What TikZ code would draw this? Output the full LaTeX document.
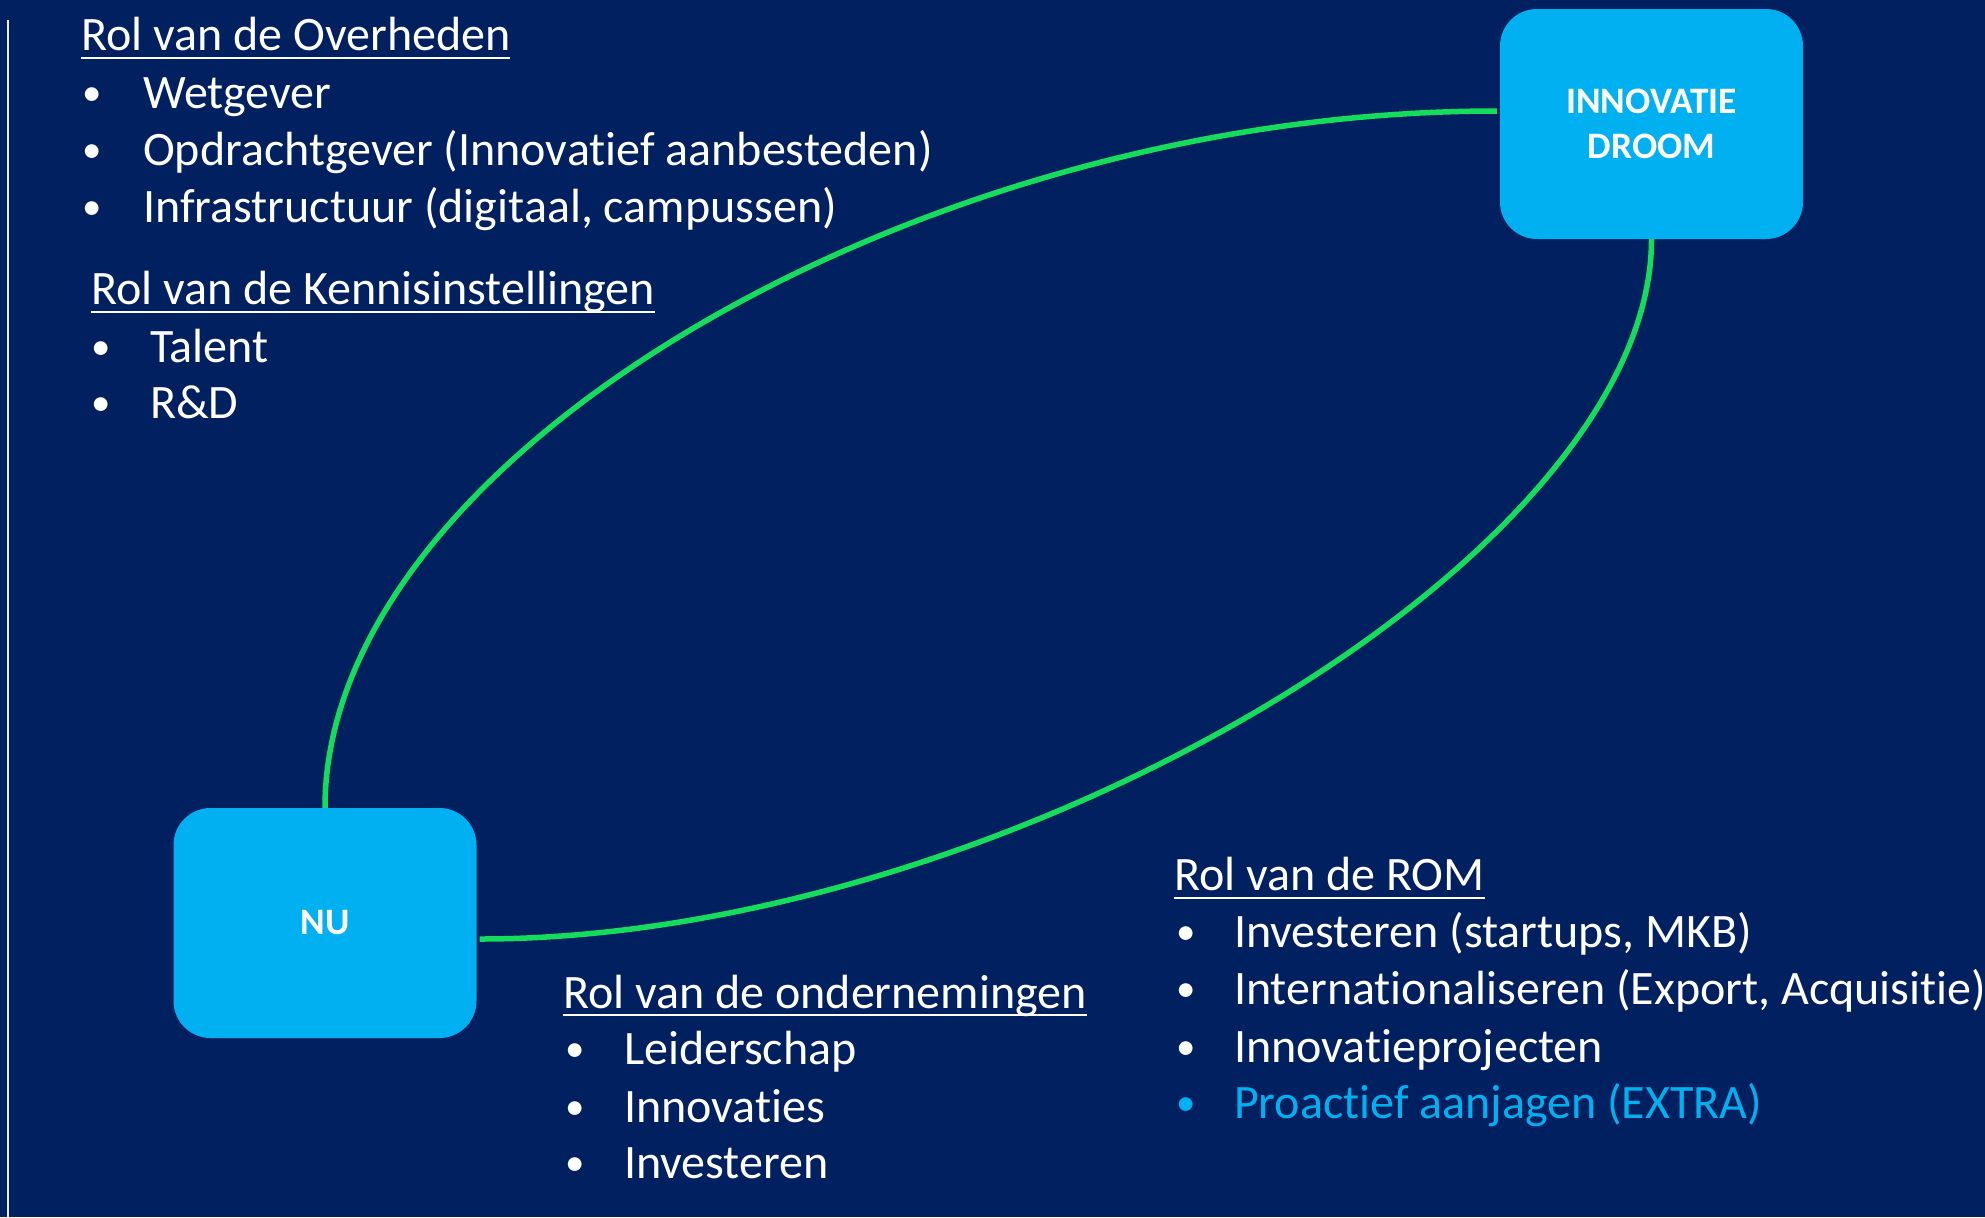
\documentclass[tikz,border=0pt]{standalone}
\usepackage{fontspec}
\setmainfont[Ligatures={NoCommon}]{Carlito}
\usetikzlibrary{calc}
\definecolor{navy}{HTML}{002060}
\definecolor{boxblue}{HTML}{00B0F0}
\definecolor{lgreen}{RGB}{22,220,92}
\tikzset{
  stagebox/.style={rectangle, rounded corners=37bp, fill=boxblue, minimum width=303bp, minimum height=230bp, inner sep=0pt, text=white, align=center, font=\fontsize{37.5}{45}\selectfont\bfseries},
  txt/.style={anchor=base west, inner sep=0pt, outer sep=0pt, text=white, font=\fontsize{48.2}{57}\selectfont},
  bul/.style={anchor=base west, inner sep=0pt, outer sep=0pt, text=white, font=\fontsize{39}{45}\selectfont},
  loop/.style={draw=lgreen, line width=5.5bp},
  uline/.style={draw=white, line width=2.5bp}
}
\begin{document}
\begin{tikzpicture}[x=1bp,y=-1bp]
\fill[navy] (0,0) rectangle (1985,1217);
\useasboundingbox (0,0) rectangle (1985,1217);
\draw[white!92!navy, line width=2bp] (8,20) -- (8,1217);

\node[stagebox] (droom) at (1651.5,124) {INNOVATIE\\DROOM};
\node[stagebox] (nu) at (325,923) {NU};

\draw[loop] (nu.north) .. controls +(0,-350) and +(-580,0) .. ($(droom.west)+(-3,-13)$);
\draw[loop] (droom.south) .. controls +(0,320) and +(520,0) .. ($(nu.east)+(3,16)$);

% Overheden
\node[txt] (h1) at (81,50) {Rol van de Overheden};
\draw[uline] ($(h1.base west)+(0,8)$) -- ($(h1.base east)+(0,8)$);
\node[bul] (h1b1) at (82,105) {•};
\node[txt] (h1t1) at (143,108) {Wetgever};
\node[bul] (h1b2) at (82,162) {•};
\node[txt] (h1t2) at (143,165) {Opdrachtgever (Innovatief aanbesteden)};
\node[bul] (h1b3) at (82,219) {•};
\node[txt] (h1t3) at (143,222) {Infrastructuur (digitaal, campussen)};

% Kennisinstellingen
\node[txt] (h2) at (91,304) {Rol van de Kennisinstellingen};
\draw[uline] ($(h2.base west)+(0,8)$) -- ($(h2.base east)+(0,8)$);
\node[bul] (h2b1) at (91,359) {•};
\node[txt] (h2t1) at (150,362) {Talent};
\node[bul] (h2b2) at (91,415) {•};
\node[txt] (h2t2) at (150,418) {R\&D};

% Ondernemingen
\node[txt] (h3) at (563,1008) {Rol van de ondernemingen};
\draw[uline] ($(h3.base west)+(0,7)$) -- ($(h3.base east)+(0,7)$);
\node[bul] (h3b1) at (565,1061) {•};
\node[txt] (h3t1) at (624,1064) {Leiderschap};
\node[bul] (h3b2) at (565,1119) {•};
\node[txt] (h3t2) at (624,1122) {Innovaties};
\node[bul] (h3b3) at (565,1175) {•};
\node[txt] (h3t3) at (624,1178) {Investeren};

% ROM
\node[txt] (h4) at (1174,890) {Rol van de ROM};
\draw[uline] ($(h4.base west)+(0,8)$) -- ($(h4.base east)+(0,8)$);
\node[bul] (h4b1) at (1176,944) {•};
\node[txt] (h4t1) at (1234,947) {Investeren (startups, MKB)};
\node[bul] (h4b2) at (1176,1001) {•};
\node[txt] (h4t2) at (1234,1004) {Internationaliseren (Export, Acquisitie)};
\node[bul] (h4b3) at (1176,1059) {•};
\node[txt] (h4t3) at (1234,1062) {Innovatieprojecten};
\node[bul, text=boxblue] (h4b4) at (1176,1115) {•};
\node[txt, text=boxblue] (h4t4) at (1234,1118) {Proactief aanjagen (EXTRA)};
\end{tikzpicture}
\end{document}
